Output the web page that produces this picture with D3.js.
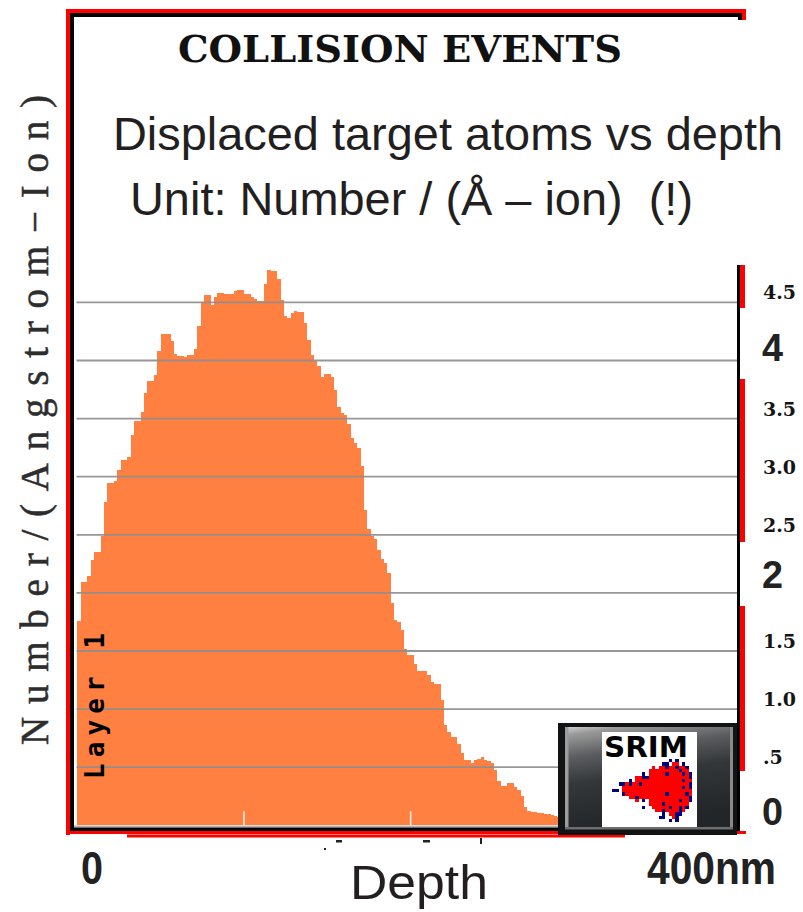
<!DOCTYPE html>
<html>
<head>
<meta charset="utf-8">
<script src="https://cdn.jsdelivr.net/npm/d3@7/dist/d3.min.js"></script>
<style>
  html, body { margin: 0; padding: 0; background: #ffffff; }
  svg { display: block; }
  text { white-space: pre; }
</style>
</head>
<body>
<svg id="chart" width="803" height="912"></svg>
<script>
// Displaced target atoms per (Angstrom·ion), one value per 2 nm depth bin
const binWidthNm = 2;
const displacements = [
  1.76, 2.09, 2.09, 2.145, 2.28, 2.35, 2.35, 2.49, 2.785, 2.95,
  2.95, 2.965, 3.06, 3.14, 3.14, 3.17, 3.36, 3.48, 3.48, 3.555,
  3.72, 3.82, 3.82, 3.875, 4.08, 4.23, 4.23, 4.23, 4.17, 4.06,
  4.04, 4.04, 4.03, 4.05, 4.05, 4.10, 4.30, 4.50, 4.56, 4.56,
  4.48, 4.55, 4.58, 4.58, 4.57, 4.57, 4.57, 4.60, 4.61, 4.61,
  4.57, 4.57, 4.55, 4.53, 4.51, 4.51, 4.66, 4.78, 4.77, 4.77,
  4.70, 4.52, 4.38, 4.37, 4.41, 4.43, 4.42, 4.42, 4.32, 4.18,
  4.05, 4.00, 3.95, 3.86, 3.88, 3.88, 3.86, 3.75, 3.60, 3.545,
  3.53, 3.45, 3.33, 3.29, 3.25, 3.09, 2.71, 2.55, 2.49, 2.46,
  2.37, 2.29, 2.26, 2.17, 1.91, 1.77, 1.75, 1.68, 1.52, 1.465,
  1.465, 1.39, 1.33, 1.33, 1.33, 1.29, 1.235, 1.215, 1.215, 1.08,
  0.86, 0.80, 0.757, 0.76, 0.70, 0.62, 0.56, 0.56, 0.534, 0.56,
  0.57, 0.585, 0.565, 0.55, 0.54, 0.48, 0.38, 0.34, 0.335, 0.365,
  0.36, 0.33, 0.30, 0.25, 0.16, 0.12, 0.117, 0.117, 0.11, 0.103,
  0.097, 0.095, 0.085, 0.08, 0.07, 0.07, 0.06, 0.05, 0.05, 0.04,
  0.03, 0.03, 0.02, 0.02, 0.01, 0.01
];

// Axis annotations
const gridValues = [0.5, 1.0, 1.5, 2.0, 2.5, 3.0, 3.5, 4.0, 4.5];
const smallTickValues = [4.5, 3.5, 3.0, 2.5, 1.5, 1.0, 0.5];
const smallTickText = ["4.5", "3.5", "3.0", "2.5", "1.5", "1.0", ".5"];
const bigTickValues = [4, 2, 0];
const bigTickText = ["4", "2", "0"];
const depthTickValues = [100, 200, 300];
const depthMaxNm = 396;

const svg = d3.select("#chart");
const defs = svg.append("defs");

// Scales
const x = d3.scaleLinear().domain([0, depthMaxNm]).range([77.3, 737.3]);
const y = d3.scaleLinear().domain([0, 4.5]).range([825.3, 302.4]);

// ---------- outer frame ----------
const frame = svg.append("g");
frame.append("rect").attr("x", 66).attr("y", 9).attr("width", 4).attr("height", 826).attr("fill", "#ff0000");
frame.append("rect").attr("x", 66).attr("y", 9).attr("width", 680).attr("height", 4).attr("fill", "#ff0000");
frame.append("rect").attr("x", 742).attr("y", 9).attr("width", 4).attr("height", 11).attr("fill", "#ff0000");
frame.append("rect").attr("x", 70).attr("y", 13).attr("width", 4).attr("height", 818).attr("fill", "#000000");
frame.append("rect").attr("x", 70).attr("y", 13).attr("width", 672).attr("height", 4).attr("fill", "#000000");
frame.append("rect").attr("x", 738).attr("y", 13).attr("width", 4).attr("height", 7).attr("fill", "#000000");

// ---------- histogram ----------
const pts = displacements.map((v, i) => [i * binWidthNm, v]);
pts.push([displacements.length * binWidthNm, displacements[displacements.length - 1]]);
const area = d3.area()
  .x(d => x(d[0]))
  .y0(y(0))
  .y1(d => y(d[1]))
  .curve(d3.curveStepAfter);
svg.append("path")
  .attr("d", area(pts))
  .attr("fill", "#ff8040")
  .attr("shape-rendering", "crispEdges");

// depth ticks (thin light marks at the base of the bars)
svg.append("g").selectAll("line")
  .data(depthTickValues)
  .join("line")
  .attr("x1", d => x(d)).attr("x2", d => x(d))
  .attr("y1", y(0) - 14).attr("y2", y(0))
  .attr("stroke", "#fff3ea").attr("stroke-width", 1.5);

// horizontal grid, drawn over the bars
svg.append("g").selectAll("line")
  .data(gridValues)
  .join("line")
  .attr("x1", 76.5).attr("x2", 737)
  .attr("y1", d => y(d)).attr("y2", d => y(d))
  .attr("stroke", "#8e8e8e").attr("stroke-width", 1.8).attr("stroke-opacity", 0.92);

// plot base and right border
frame.raise();
svg.append("rect").attr("x", 74).attr("y", 825.5).attr("width", 663).attr("height", 2).attr("fill", "#b4b4b4");
svg.append("rect").attr("x", 70).attr("y", 827.5).attr("width", 670).attr("height", 3.5).attr("fill", "#000000");
svg.append("rect").attr("x", 66).attr("y", 831).attr("width", 680).attr("height", 3).attr("fill", "#ff0000");
svg.append("rect").attr("x", 127).attr("y", 834.5).attr("width", 498).attr("height", 3).attr("fill", "#ff0000");
svg.append("rect").attr("x", 737).attr("y", 265).attr("width", 3).attr("height", 566).attr("fill", "#000000");
const redSegments = [[265, 308], [379, 542], [606, 771]];
svg.append("g").selectAll("rect")
  .data(redSegments)
  .join("rect")
  .attr("x", 740).attr("width", 5)
  .attr("y", d => d[0]).attr("height", d => d[1] - d[0])
  .attr("fill", "#ff0000");

// remnants of depth labels below the frame
const marks = [[336, 840, 6, 2.5], [423, 840, 7, 2.5], [480, 838, 2, 6], [324, 848, 2, 2]];
svg.append("g").selectAll("rect")
  .data(marks)
  .join("rect")
  .attr("x", d => d[0]).attr("y", d => d[1]).attr("width", d => d[2]).attr("height", d => d[3])
  .attr("fill", "#222");

// ---------- right-hand value labels ----------
svg.append("g").selectAll("text")
  .data(smallTickValues)
  .join("text")
  .attr("x", 763)
  .attr("y", d => y(d) - 3)
  .attr("font-family", "'DejaVu Serif', serif")
  .attr("font-weight", "bold")
  .attr("font-size", 19)
  .attr("fill", "#151515")
  .text((d, i) => smallTickText[i]);

const bigBaselines = [361, 588, 825];
svg.append("g").selectAll("text")
  .data(bigTickValues)
  .join("text")
  .attr("x", 762)
  .attr("y", (d, i) => bigBaselines[i])
  .attr("font-family", "'Liberation Sans', Arial, sans-serif")
  .attr("font-weight", "bold")
  .attr("font-size", 39)
  .attr("textLength", 21)
  .attr("lengthAdjust", "spacingAndGlyphs")
  .attr("fill", "#222222")
  .text((d, i) => bigTickText[i]);

// ---------- titles ----------
svg.append("text")
  .attr("x", 178).attr("y", 62)
  .attr("font-family", "'DejaVu Serif', serif")
  .attr("font-weight", "bold")
  .attr("font-size", 37)
  .attr("textLength", 444)
  .attr("lengthAdjust", "spacingAndGlyphs")
  .attr("fill", "#111")
  .text("COLLISION EVENTS");

svg.append("text")
  .attr("x", 113).attr("y", 150)
  .attr("font-family", "'Liberation Sans', Arial, sans-serif")
  .attr("font-size", 46.5)
  .attr("textLength", 670)
  .attr("lengthAdjust", "spacingAndGlyphs")
  .attr("fill", "#231f20")
  .text("Displaced target atoms vs depth");

svg.append("text")
  .attr("x", 130).attr("y", 215)
  .attr("font-family", "'Liberation Sans', Arial, sans-serif")
  .attr("font-size", 46.5)
  .attr("textLength", 563)
  .attr("lengthAdjust", "spacingAndGlyphs")
  .attr("fill", "#231f20")
  .text("Unit: Number / (\u00C5 \u2013 ion)  (!)");

// y-axis title (rotated)
svg.append("text")
  .attr("transform", "translate(48,745) rotate(-90)")
  .attr("font-family", "'Liberation Serif', 'DejaVu Serif', serif")
  .attr("font-size", 39)
  .attr("textLength", 650)
  .attr("lengthAdjust", "spacing")
  .attr("fill", "#2d2d2d")
  .attr("stroke", "#2d2d2d")
  .attr("stroke-width", 0.5)
  .text("Number/(Angstrom\u2212Ion)");

// layer name inside the plot
svg.append("text")
  .attr("transform", "translate(104,779) rotate(-90)")
  .attr("font-family", "'DejaVu Sans Mono', monospace")
  .attr("font-weight", "bold")
  .attr("font-size", 26)
  .attr("textLength", 146)
  .attr("lengthAdjust", "spacing")
  .attr("fill", "#000")
  .text("Layer 1");

// depth axis labels
svg.append("text")
  .attr("x", 81).attr("y", 884)
  .attr("font-family", "'Liberation Sans', Arial, sans-serif")
  .attr("font-weight", "bold").attr("font-size", 46)
  .attr("textLength", 22).attr("lengthAdjust", "spacingAndGlyphs")
  .attr("fill", "#222").text("0");
svg.append("text")
  .attr("x", 647).attr("y", 884)
  .attr("font-family", "'Liberation Sans', Arial, sans-serif")
  .attr("font-weight", "bold").attr("font-size", 46)
  .attr("textLength", 129).attr("lengthAdjust", "spacingAndGlyphs")
  .attr("fill", "#222").text("400nm");
svg.append("text")
  .attr("x", 350).attr("y", 899)
  .attr("font-family", "'Liberation Sans', Arial, sans-serif")
  .attr("font-size", 48)
  .attr("textLength", 138).attr("lengthAdjust", "spacingAndGlyphs")
  .attr("fill", "#231f20").text("Depth");

// ---------- SRIM badge ----------
const grad = defs.append("linearGradient")
  .attr("id", "badgeGrad").attr("x1", 0).attr("y1", 0).attr("x2", 0.25).attr("y2", 1);
[["0%", "#d2d2d2"], ["8%", "#9a9a9a"], ["30%", "#5a5c5f"], ["55%", "#34373a"], ["100%", "#232629"]]
  .forEach(s => grad.append("stop").attr("offset", s[0]).attr("stop-color", s[1]));

const badge = svg.append("g");
badge.append("rect").attr("x", 558).attr("y", 723).attr("width", 179).attr("height", 112).attr("fill", "#111315");
badge.append("rect").attr("x", 565).attr("y", 727).attr("width", 167).attr("height", 100).attr("fill", "url(#badgeGrad)");
badge.append("rect").attr("x", 565).attr("y", 727).attr("width", 3.5).attr("height", 102).attr("fill", "#9c9c9c");
badge.append("rect").attr("x", 730).attr("y", 727).attr("width", 3).attr("height", 102).attr("fill", "#8a8a8a");
badge.append("rect").attr("x", 565).attr("y", 827).attr("width", 168).attr("height", 2.5).attr("fill", "#6e6e6e");
badge.append("rect").attr("x", 602).attr("y", 732).attr("width", 95).attr("height", 95).attr("fill", "#ffffff");
badge.append("text")
  .attr("x", 604).attr("y", 757)
  .attr("font-family", "'DejaVu Sans', sans-serif")
  .attr("font-weight", "bold").attr("font-size", 29)
  .attr("textLength", 84).attr("lengthAdjust", "spacingAndGlyphs")
  .attr("fill", "#000").text("SRIM");

const plume = [
  ".................b.b.....",
  "...............bb.rr.b...",
  "............r.rrbrrbrrb..",
  "...........rrrrrrrrrbrr..",
  ".........b.rrrrrbrrrrbrb.",
  ".......rrbbrrrrrrrrrrrrb.",
  ".....b.rrrrrrrrrrrrrrbrr.",
  "..bbrbrrbrrrrrrrrrrrrrrb.",
  "...rrrrrrrrrrrrrrrrrrbrb.",
  "bb.rrrrrrrrrrrrrrrrrrrrr.",
  "...brrrrrrrrrrrrbrrrrrbr.",
  ".....rrbrrrrrrrrrrrrrrrb.",
  ".......r.b.rrrrrrrrrbrrb.",
  "...........rrrrbrrrrrrr..",
  ".........b..rrrrrbrrbrb..",
  ".............rrbrrrrbr...",
  "...............b.rrbb....",
  "..............bb..rb.....",
  ".................b.b....."
];
const cells = [];
plume.forEach((row, r) => row.split("").forEach((c, k) => { if (c !== ".") cells.push({ r, k, c }); }));
const cell = 3.33;
badge.append("g").selectAll("rect")
  .data(cells)
  .join("rect")
  .attr("x", d => 612 + d.k * cell)
  .attr("y", d => 759 + d.r * cell)
  .attr("width", cell).attr("height", cell)
  .attr("fill", d => d.c === "r" ? "#ff0000" : "#000080")
  .attr("shape-rendering", "crispEdges");
</script>
</body>
</html>
